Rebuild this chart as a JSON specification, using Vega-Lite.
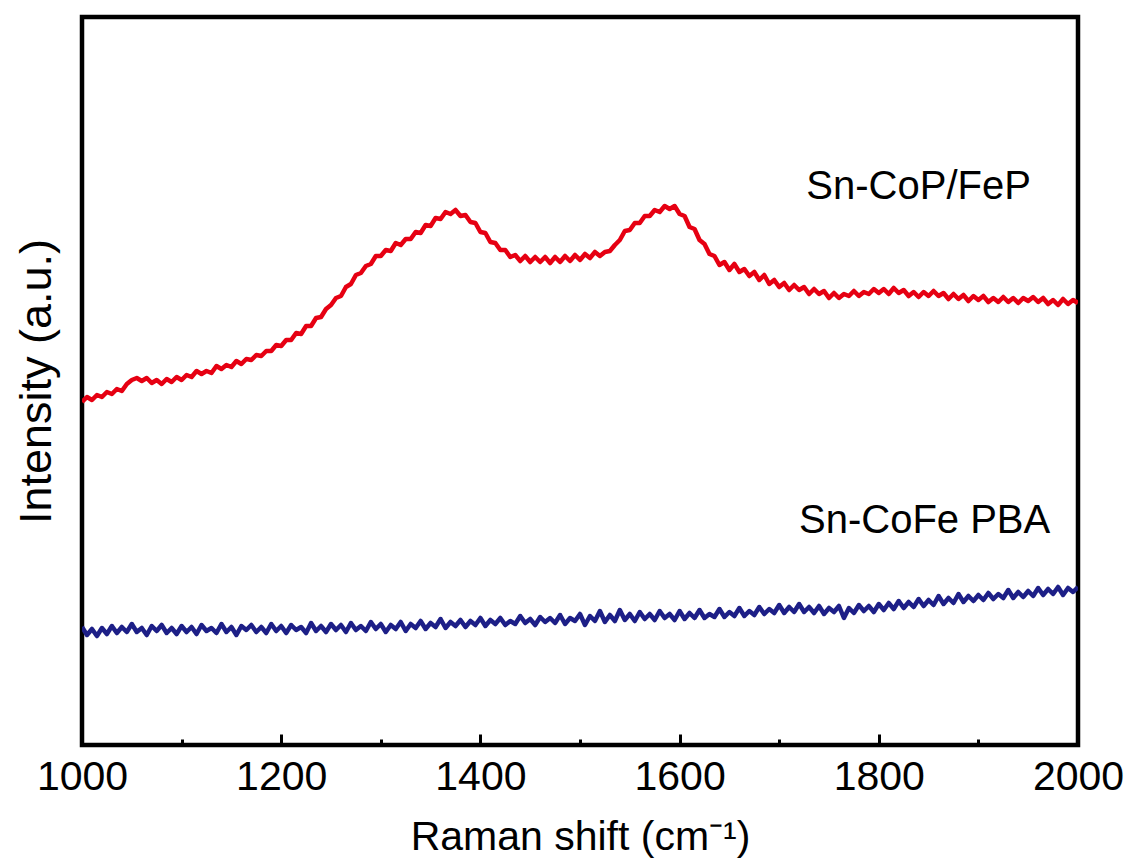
{
  "$schema": "https://vega.github.io/schema/vega-lite/v6.json",
  "width": 996,
  "height": 728,
  "autosize": "none",
  "padding": {"left": 82, "top": 17, "right": 46, "bottom": 118},
  "config": {"view": {"stroke": "black", "strokeWidth": 4.5}, "font": "Liberation Sans"},
  "datasets": {
    "spectra": [
      {"shift":1000,"Sn-CoP/FeP":343,"Sn-CoFe PBA":118},{"shift":1005,"Sn-CoP/FeP":348,"Sn-CoFe PBA":110},{"shift":1010,"Sn-CoP/FeP":345,"Sn-CoFe PBA":116},{"shift":1015,"Sn-CoP/FeP":350,"Sn-CoFe PBA":109},{"shift":1020,"Sn-CoP/FeP":348,"Sn-CoFe PBA":117},{"shift":1025,"Sn-CoP/FeP":353,"Sn-CoFe PBA":111},{"shift":1030,"Sn-CoP/FeP":351,"Sn-CoFe PBA":119},{"shift":1035,"Sn-CoP/FeP":356,"Sn-CoFe PBA":112},{"shift":1040,"Sn-CoP/FeP":354,"Sn-CoFe PBA":118},{"shift":1045,"Sn-CoP/FeP":361,"Sn-CoFe PBA":113},
      {"shift":1050,"Sn-CoP/FeP":365,"Sn-CoFe PBA":121},{"shift":1055,"Sn-CoP/FeP":367,"Sn-CoFe PBA":113},{"shift":1060,"Sn-CoP/FeP":364,"Sn-CoFe PBA":117},{"shift":1065,"Sn-CoP/FeP":367,"Sn-CoFe PBA":110},{"shift":1070,"Sn-CoP/FeP":362,"Sn-CoFe PBA":119},{"shift":1075,"Sn-CoP/FeP":365,"Sn-CoFe PBA":114},{"shift":1080,"Sn-CoP/FeP":361,"Sn-CoFe PBA":120},{"shift":1085,"Sn-CoP/FeP":366,"Sn-CoFe PBA":112},{"shift":1090,"Sn-CoP/FeP":363,"Sn-CoFe PBA":117},{"shift":1095,"Sn-CoP/FeP":368,"Sn-CoFe PBA":111},
      {"shift":1100,"Sn-CoP/FeP":365,"Sn-CoFe PBA":119},{"shift":1105,"Sn-CoP/FeP":370,"Sn-CoFe PBA":113},{"shift":1110,"Sn-CoP/FeP":368,"Sn-CoFe PBA":118},{"shift":1115,"Sn-CoP/FeP":374,"Sn-CoFe PBA":111},{"shift":1120,"Sn-CoP/FeP":371,"Sn-CoFe PBA":120},{"shift":1125,"Sn-CoP/FeP":374,"Sn-CoFe PBA":114},{"shift":1130,"Sn-CoP/FeP":372,"Sn-CoFe PBA":117},{"shift":1135,"Sn-CoP/FeP":379,"Sn-CoFe PBA":112},{"shift":1140,"Sn-CoP/FeP":376,"Sn-CoFe PBA":121},{"shift":1145,"Sn-CoP/FeP":380,"Sn-CoFe PBA":113},
      {"shift":1150,"Sn-CoP/FeP":378,"Sn-CoFe PBA":118},{"shift":1155,"Sn-CoP/FeP":384,"Sn-CoFe PBA":110},{"shift":1160,"Sn-CoP/FeP":381,"Sn-CoFe PBA":119},{"shift":1165,"Sn-CoP/FeP":386,"Sn-CoFe PBA":115},{"shift":1170,"Sn-CoP/FeP":385,"Sn-CoFe PBA":120},{"shift":1175,"Sn-CoP/FeP":390,"Sn-CoFe PBA":113},{"shift":1180,"Sn-CoP/FeP":389,"Sn-CoFe PBA":118},{"shift":1185,"Sn-CoP/FeP":394,"Sn-CoFe PBA":112},{"shift":1190,"Sn-CoP/FeP":394,"Sn-CoFe PBA":121},{"shift":1195,"Sn-CoP/FeP":400,"Sn-CoFe PBA":114},
      {"shift":1200,"Sn-CoP/FeP":399,"Sn-CoFe PBA":119},{"shift":1205,"Sn-CoP/FeP":405,"Sn-CoFe PBA":112},{"shift":1210,"Sn-CoP/FeP":405,"Sn-CoFe PBA":120},{"shift":1215,"Sn-CoP/FeP":412,"Sn-CoFe PBA":115},{"shift":1220,"Sn-CoP/FeP":411,"Sn-CoFe PBA":118},{"shift":1225,"Sn-CoP/FeP":419,"Sn-CoFe PBA":112},{"shift":1230,"Sn-CoP/FeP":419,"Sn-CoFe PBA":122},{"shift":1235,"Sn-CoP/FeP":427,"Sn-CoFe PBA":114},{"shift":1240,"Sn-CoP/FeP":428,"Sn-CoFe PBA":119},{"shift":1245,"Sn-CoP/FeP":436,"Sn-CoFe PBA":113},
      {"shift":1250,"Sn-CoP/FeP":440,"Sn-CoFe PBA":121},{"shift":1255,"Sn-CoP/FeP":447,"Sn-CoFe PBA":115},{"shift":1260,"Sn-CoP/FeP":449,"Sn-CoFe PBA":120},{"shift":1265,"Sn-CoP/FeP":458,"Sn-CoFe PBA":113},{"shift":1270,"Sn-CoP/FeP":461,"Sn-CoFe PBA":122},{"shift":1275,"Sn-CoP/FeP":470,"Sn-CoFe PBA":115},{"shift":1280,"Sn-CoP/FeP":472,"Sn-CoFe PBA":119},{"shift":1285,"Sn-CoP/FeP":479,"Sn-CoFe PBA":114},{"shift":1290,"Sn-CoP/FeP":481,"Sn-CoFe PBA":123},{"shift":1295,"Sn-CoP/FeP":489,"Sn-CoFe PBA":116},
      {"shift":1300,"Sn-CoP/FeP":489,"Sn-CoFe PBA":121},{"shift":1305,"Sn-CoP/FeP":495,"Sn-CoFe PBA":113},{"shift":1310,"Sn-CoP/FeP":494,"Sn-CoFe PBA":120},{"shift":1315,"Sn-CoP/FeP":502,"Sn-CoFe PBA":116},{"shift":1320,"Sn-CoP/FeP":500,"Sn-CoFe PBA":123},{"shift":1325,"Sn-CoP/FeP":506,"Sn-CoFe PBA":114},{"shift":1330,"Sn-CoP/FeP":506,"Sn-CoFe PBA":121},{"shift":1335,"Sn-CoP/FeP":513,"Sn-CoFe PBA":117},{"shift":1340,"Sn-CoP/FeP":512,"Sn-CoFe PBA":124},{"shift":1345,"Sn-CoP/FeP":520,"Sn-CoFe PBA":116},
      {"shift":1350,"Sn-CoP/FeP":519,"Sn-CoFe PBA":122},{"shift":1355,"Sn-CoP/FeP":527,"Sn-CoFe PBA":118},{"shift":1360,"Sn-CoP/FeP":526,"Sn-CoFe PBA":126},{"shift":1365,"Sn-CoP/FeP":533,"Sn-CoFe PBA":117},{"shift":1370,"Sn-CoP/FeP":531,"Sn-CoFe PBA":123},{"shift":1375,"Sn-CoP/FeP":535,"Sn-CoFe PBA":119},{"shift":1380,"Sn-CoP/FeP":529,"Sn-CoFe PBA":125},{"shift":1385,"Sn-CoP/FeP":530,"Sn-CoFe PBA":118},{"shift":1390,"Sn-CoP/FeP":523,"Sn-CoFe PBA":124},{"shift":1395,"Sn-CoP/FeP":522,"Sn-CoFe PBA":120},
      {"shift":1400,"Sn-CoP/FeP":513,"Sn-CoFe PBA":127},{"shift":1405,"Sn-CoP/FeP":512,"Sn-CoFe PBA":119},{"shift":1410,"Sn-CoP/FeP":503,"Sn-CoFe PBA":125},{"shift":1415,"Sn-CoP/FeP":502,"Sn-CoFe PBA":121},{"shift":1420,"Sn-CoP/FeP":495,"Sn-CoFe PBA":127},{"shift":1425,"Sn-CoP/FeP":495,"Sn-CoFe PBA":120},{"shift":1430,"Sn-CoP/FeP":488,"Sn-CoFe PBA":124},{"shift":1435,"Sn-CoP/FeP":490,"Sn-CoFe PBA":121},{"shift":1440,"Sn-CoP/FeP":484,"Sn-CoFe PBA":129},{"shift":1445,"Sn-CoP/FeP":489,"Sn-CoFe PBA":122},
      {"shift":1450,"Sn-CoP/FeP":483,"Sn-CoFe PBA":126},{"shift":1455,"Sn-CoP/FeP":488,"Sn-CoFe PBA":120},{"shift":1460,"Sn-CoP/FeP":483,"Sn-CoFe PBA":128},{"shift":1465,"Sn-CoP/FeP":488,"Sn-CoFe PBA":123},{"shift":1470,"Sn-CoP/FeP":482,"Sn-CoFe PBA":127},{"shift":1475,"Sn-CoP/FeP":488,"Sn-CoFe PBA":122},{"shift":1480,"Sn-CoP/FeP":483,"Sn-CoFe PBA":130},{"shift":1485,"Sn-CoP/FeP":489,"Sn-CoFe PBA":121},{"shift":1490,"Sn-CoP/FeP":484,"Sn-CoFe PBA":127},{"shift":1495,"Sn-CoP/FeP":490,"Sn-CoFe PBA":124},
      {"shift":1500,"Sn-CoP/FeP":485,"Sn-CoFe PBA":131},{"shift":1505,"Sn-CoP/FeP":491,"Sn-CoFe PBA":120},{"shift":1510,"Sn-CoP/FeP":487,"Sn-CoFe PBA":129},{"shift":1515,"Sn-CoP/FeP":493,"Sn-CoFe PBA":124},{"shift":1520,"Sn-CoP/FeP":489,"Sn-CoFe PBA":134},{"shift":1525,"Sn-CoP/FeP":493,"Sn-CoFe PBA":123},{"shift":1530,"Sn-CoP/FeP":494,"Sn-CoFe PBA":130},{"shift":1535,"Sn-CoP/FeP":500,"Sn-CoFe PBA":124},{"shift":1540,"Sn-CoP/FeP":505,"Sn-CoFe PBA":135},{"shift":1545,"Sn-CoP/FeP":514,"Sn-CoFe PBA":125},
      {"shift":1550,"Sn-CoP/FeP":515,"Sn-CoFe PBA":131},{"shift":1555,"Sn-CoP/FeP":522,"Sn-CoFe PBA":124},{"shift":1560,"Sn-CoP/FeP":522,"Sn-CoFe PBA":133},{"shift":1565,"Sn-CoP/FeP":529,"Sn-CoFe PBA":126},{"shift":1570,"Sn-CoP/FeP":529,"Sn-CoFe PBA":131},{"shift":1575,"Sn-CoP/FeP":535,"Sn-CoFe PBA":125},{"shift":1580,"Sn-CoP/FeP":533,"Sn-CoFe PBA":134},{"shift":1585,"Sn-CoP/FeP":539,"Sn-CoFe PBA":127},{"shift":1590,"Sn-CoP/FeP":536,"Sn-CoFe PBA":131},{"shift":1595,"Sn-CoP/FeP":539,"Sn-CoFe PBA":125},
      {"shift":1600,"Sn-CoP/FeP":531,"Sn-CoFe PBA":134},{"shift":1605,"Sn-CoP/FeP":529,"Sn-CoFe PBA":126},{"shift":1610,"Sn-CoP/FeP":518,"Sn-CoFe PBA":132},{"shift":1615,"Sn-CoP/FeP":516,"Sn-CoFe PBA":127},{"shift":1620,"Sn-CoP/FeP":505,"Sn-CoFe PBA":135},{"shift":1625,"Sn-CoP/FeP":501,"Sn-CoFe PBA":127},{"shift":1630,"Sn-CoP/FeP":491,"Sn-CoFe PBA":131},{"shift":1635,"Sn-CoP/FeP":489,"Sn-CoFe PBA":128},{"shift":1640,"Sn-CoP/FeP":480,"Sn-CoFe PBA":136},{"shift":1645,"Sn-CoP/FeP":483,"Sn-CoFe PBA":128},
      {"shift":1650,"Sn-CoP/FeP":475,"Sn-CoFe PBA":133},{"shift":1655,"Sn-CoP/FeP":481,"Sn-CoFe PBA":129},{"shift":1660,"Sn-CoP/FeP":473,"Sn-CoFe PBA":137},{"shift":1665,"Sn-CoP/FeP":476,"Sn-CoFe PBA":129},{"shift":1670,"Sn-CoP/FeP":469,"Sn-CoFe PBA":134},{"shift":1675,"Sn-CoP/FeP":473,"Sn-CoFe PBA":130},{"shift":1680,"Sn-CoP/FeP":465,"Sn-CoFe PBA":138},{"shift":1685,"Sn-CoP/FeP":470,"Sn-CoFe PBA":131},{"shift":1690,"Sn-CoP/FeP":461,"Sn-CoFe PBA":136},{"shift":1695,"Sn-CoP/FeP":465,"Sn-CoFe PBA":132},
      {"shift":1700,"Sn-CoP/FeP":458,"Sn-CoFe PBA":140},{"shift":1705,"Sn-CoP/FeP":462,"Sn-CoFe PBA":132},{"shift":1710,"Sn-CoP/FeP":455,"Sn-CoFe PBA":138},{"shift":1715,"Sn-CoP/FeP":460,"Sn-CoFe PBA":133},{"shift":1720,"Sn-CoP/FeP":455,"Sn-CoFe PBA":141},{"shift":1725,"Sn-CoP/FeP":458,"Sn-CoFe PBA":133},{"shift":1730,"Sn-CoP/FeP":451,"Sn-CoFe PBA":138},{"shift":1735,"Sn-CoP/FeP":456,"Sn-CoFe PBA":132},{"shift":1740,"Sn-CoP/FeP":451,"Sn-CoFe PBA":139},{"shift":1745,"Sn-CoP/FeP":454,"Sn-CoFe PBA":131},
      {"shift":1750,"Sn-CoP/FeP":447,"Sn-CoFe PBA":137},{"shift":1755,"Sn-CoP/FeP":452,"Sn-CoFe PBA":133},{"shift":1760,"Sn-CoP/FeP":447,"Sn-CoFe PBA":139},{"shift":1765,"Sn-CoP/FeP":451,"Sn-CoFe PBA":127},{"shift":1770,"Sn-CoP/FeP":449,"Sn-CoFe PBA":137},{"shift":1775,"Sn-CoP/FeP":454,"Sn-CoFe PBA":132},{"shift":1780,"Sn-CoP/FeP":449,"Sn-CoFe PBA":140},{"shift":1785,"Sn-CoP/FeP":453,"Sn-CoFe PBA":134},{"shift":1790,"Sn-CoP/FeP":451,"Sn-CoFe PBA":139},{"shift":1795,"Sn-CoP/FeP":456,"Sn-CoFe PBA":133},
      {"shift":1800,"Sn-CoP/FeP":452,"Sn-CoFe PBA":141},{"shift":1805,"Sn-CoP/FeP":456,"Sn-CoFe PBA":135},{"shift":1810,"Sn-CoP/FeP":451,"Sn-CoFe PBA":142},{"shift":1815,"Sn-CoP/FeP":457,"Sn-CoFe PBA":136},{"shift":1820,"Sn-CoP/FeP":452,"Sn-CoFe PBA":144},{"shift":1825,"Sn-CoP/FeP":455,"Sn-CoFe PBA":137},{"shift":1830,"Sn-CoP/FeP":449,"Sn-CoFe PBA":143},{"shift":1835,"Sn-CoP/FeP":453,"Sn-CoFe PBA":138},{"shift":1840,"Sn-CoP/FeP":448,"Sn-CoFe PBA":146},{"shift":1845,"Sn-CoP/FeP":453,"Sn-CoFe PBA":139},
      {"shift":1850,"Sn-CoP/FeP":449,"Sn-CoFe PBA":145},{"shift":1855,"Sn-CoP/FeP":454,"Sn-CoFe PBA":140},{"shift":1860,"Sn-CoP/FeP":449,"Sn-CoFe PBA":149},{"shift":1865,"Sn-CoP/FeP":452,"Sn-CoFe PBA":141},{"shift":1870,"Sn-CoP/FeP":446,"Sn-CoFe PBA":147},{"shift":1875,"Sn-CoP/FeP":451,"Sn-CoFe PBA":142},{"shift":1880,"Sn-CoP/FeP":446,"Sn-CoFe PBA":151},{"shift":1885,"Sn-CoP/FeP":450,"Sn-CoFe PBA":143},{"shift":1890,"Sn-CoP/FeP":444,"Sn-CoFe PBA":149},{"shift":1895,"Sn-CoP/FeP":449,"Sn-CoFe PBA":144},
      {"shift":1900,"Sn-CoP/FeP":445,"Sn-CoFe PBA":150},{"shift":1905,"Sn-CoP/FeP":449,"Sn-CoFe PBA":145},{"shift":1910,"Sn-CoP/FeP":443,"Sn-CoFe PBA":152},{"shift":1915,"Sn-CoP/FeP":447,"Sn-CoFe PBA":146},{"shift":1920,"Sn-CoP/FeP":443,"Sn-CoFe PBA":151},{"shift":1925,"Sn-CoP/FeP":448,"Sn-CoFe PBA":147},{"shift":1930,"Sn-CoP/FeP":443,"Sn-CoFe PBA":155},{"shift":1935,"Sn-CoP/FeP":447,"Sn-CoFe PBA":147},{"shift":1940,"Sn-CoP/FeP":442,"Sn-CoFe PBA":153},{"shift":1945,"Sn-CoP/FeP":447,"Sn-CoFe PBA":148},
      {"shift":1950,"Sn-CoP/FeP":444,"Sn-CoFe PBA":154},{"shift":1955,"Sn-CoP/FeP":448,"Sn-CoFe PBA":149},{"shift":1960,"Sn-CoP/FeP":443,"Sn-CoFe PBA":157},{"shift":1965,"Sn-CoP/FeP":447,"Sn-CoFe PBA":150},{"shift":1970,"Sn-CoP/FeP":441,"Sn-CoFe PBA":156},{"shift":1975,"Sn-CoP/FeP":445,"Sn-CoFe PBA":151},{"shift":1980,"Sn-CoP/FeP":440,"Sn-CoFe PBA":158},{"shift":1985,"Sn-CoP/FeP":446,"Sn-CoFe PBA":150},{"shift":1990,"Sn-CoP/FeP":441,"Sn-CoFe PBA":157},{"shift":1995,"Sn-CoP/FeP":445,"Sn-CoFe PBA":153},
      {"shift":2000,"Sn-CoP/FeP":442,"Sn-CoFe PBA":158}
    ],
    "labels": [
      {"shift": 1840, "intensity": 558, "label": "Sn-CoP/FeP"},
      {"shift": 1846, "intensity": 224, "label": "Sn-CoFe PBA"}
    ]
  },
  "layer": [
    {
      "data": {"name": "spectra"},
      "transform": [{"fold": ["Sn-CoP/FeP", "Sn-CoFe PBA"], "as": ["sample", "intensity"]}],
      "mark": {"type": "line", "strokeWidth": 4.5, "strokeJoin": "round", "clip": true},
      "encoding": {
        "x": {
          "field": "shift", "type": "quantitative",
          "scale": {"domain": [1000, 2000], "nice": false},
          "axis": {
            "values": [1000, 1100, 1200, 1300, 1400, 1500, 1600, 1700, 1800, 1900, 2000],
            "format": "d",
            "labelExpr": "datum.value % 200 === 0 ? datum.label : ''",
            "labelFlush": false,
            "domain": false, "grid": false,
            "tickColor": "black", "tickWidth": 3,
            "tickSize": {"condition": {"test": "datum.value % 200 === 0", "value": -11}, "value": -6},
            "labelFontSize": 41, "labelColor": "black", "labelPadding": 23, "labelFont": "Liberation Sans",
            "title": "Raman shift (cm⁻¹)", "titleFontSize": 41, "titleFontWeight": "normal",
            "titleColor": "black", "titlePadding": 20, "titleFont": "Liberation Sans"
          }
        },
        "y": {
          "field": "intensity", "type": "quantitative",
          "scale": {"domain": [0, 728], "nice": false},
          "axis": {
            "title": "Intensity (a.u.)", "labels": false, "ticks": false, "domain": false, "grid": false,
            "titleFontSize": 45, "titleFontWeight": "normal", "titleColor": "black",
            "titlePadding": 23, "titleFont": "Liberation Sans"
          }
        },
        "color": {
          "field": "sample", "type": "nominal",
          "scale": {"domain": ["Sn-CoP/FeP", "Sn-CoFe PBA"], "range": ["#E60012", "#1D1F87"]},
          "legend": null
        }
      }
    },
    {
      "data": {"name": "labels"},
      "mark": {"type": "text", "fontSize": 40, "font": "Liberation Sans", "color": "black", "baseline": "middle", "align": "center"},
      "encoding": {
        "x": {"field": "shift", "type": "quantitative"},
        "y": {"field": "intensity", "type": "quantitative"},
        "text": {"field": "label"}
      }
    }
  ]
}
